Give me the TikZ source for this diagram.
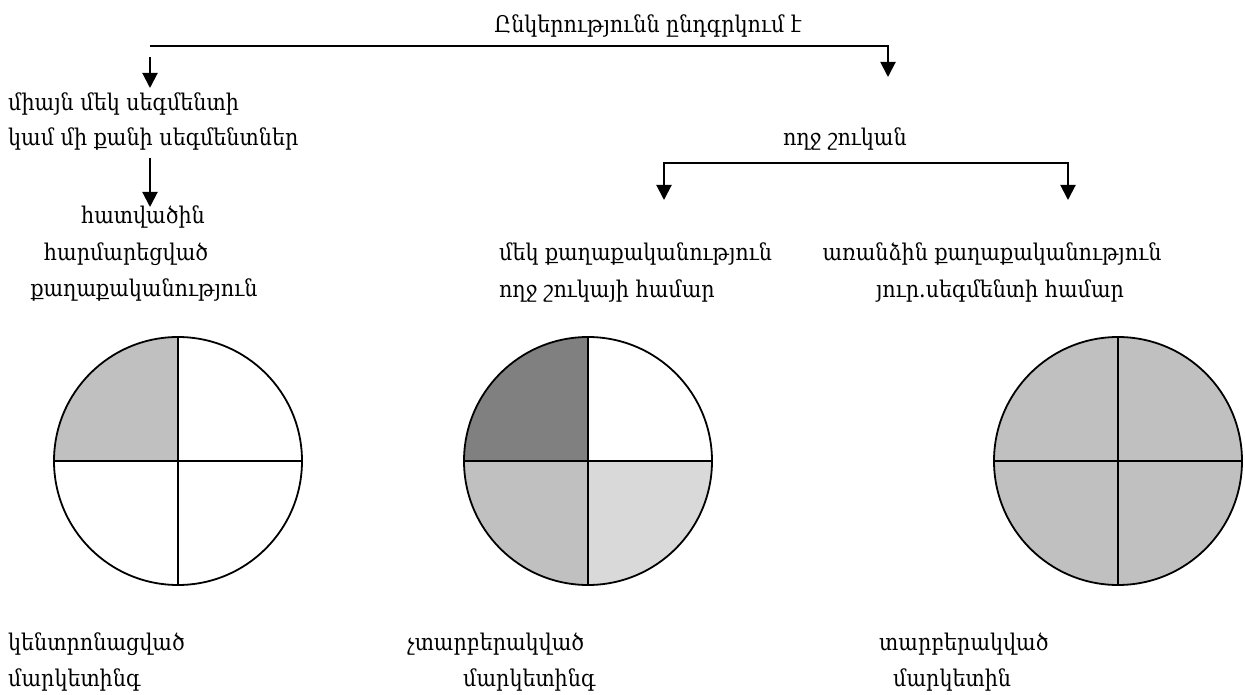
\documentclass[tikz,border=0pt]{standalone}
\usepackage{fontspec}
\setmainfont{DejaVu Serif Condensed}
\usetikzlibrary{arrows.meta}
\definecolor{qgray}{HTML}{C0C0C0}
\definecolor{qdark}{HTML}{808080}
\definecolor{qlight}{HTML}{D9D9D9}
\begin{document}
\begin{tikzpicture}[x=1pt,y=-1pt,
  lbl/.style={inner sep=0pt, font=\fontsize{23}{27}\selectfont},
  conn/.style={line width=2pt},
  tip/.tip={Triangle[width=15pt,length=15pt]},
  arr/.style={conn,-tip},
  pie/.style={circle, draw, line width=1.8pt, minimum size=248pt, inner sep=0pt},
  cross/.style={line width=1.8pt}]
\useasboundingbox (0,0) rectangle (1245,695);

% texts
\node[lbl, anchor=base] (top) at (648,33) {Ընկերությունն ընդգրկում է};
\node[lbl, anchor=base west] (l1) at (8,111) {միայն մեկ սեգմենտի};
\node[lbl, anchor=base west] (l2) at (8,146) {կամ մի քանի սեգմենտներ};
\node[lbl, anchor=base] (m1) at (143,224) {հատվածին};
\node[lbl, anchor=base] (m2) at (126,261) {հարմարեցված};
\node[lbl, anchor=base] (m3) at (144,296) {քաղաքականություն};
\node[lbl, anchor=base] (whole) at (845,146) {ողջ շուկան};
\node[lbl, anchor=base west] (c1) at (499,261) {մեկ քաղաքականություն};
\node[lbl, anchor=base west] (c2) at (499,297) {ողջ շուկայի համար};
\node[lbl, anchor=base] (r1) at (992,261) {առանձին քաղաքականություն};
\node[lbl, anchor=base] (r2) at (1000,297) {յուր.սեգմենտի համար};
\node[lbl, anchor=base west] (b1) at (8,650) {կենտրոնացված};
\node[lbl, anchor=base west] (b2) at (8,686) {մարկետինգ};
\node[lbl, anchor=base west] (b3) at (407,650) {չտարբերակված};
\node[lbl, anchor=base west] (b4) at (463,686) {մարկետինգ};
\node[lbl, anchor=base west] (b5) at (879,650) {տարբերակված};
\node[lbl, anchor=base west] (b6) at (893,686) {մարկետին};

% connectors
\coordinate (t0) at (150,46);
\coordinate (t1) at (888,46);
\coordinate (t2) at (888,77);
\draw[arr] (t0) -- (t1) -- (t2);
\coordinate (a1s) at (150,57);
\coordinate (a1e) at (150,88);
\draw[arr] (a1s) -- (a1e);
\coordinate (a2s) at (150,158);
\coordinate (a2e) at (150,207);
\draw[arr] (a2s) -- (a2e);
\coordinate (k0) at (664,200);
\coordinate (k1) at (664,163);
\coordinate (k2) at (1068,163);
\coordinate (k3) at (1068,200);
\draw[conn, tip-tip] (k0) -- (k1) -- (k2) -- (k3);

% pies
\begin{scope}
  \clip (178,461) circle[radius=124];
  \fill[qgray] (54,337) rectangle (178,461);
\end{scope}
\begin{scope}
  \clip (588,461) circle[radius=124];
  \fill[qdark] (464,337) rectangle (588,461);
  \fill[qgray] (464,461) rectangle (588,585);
  \fill[qlight] (588,461) rectangle (712,585);
\end{scope}
\fill[qgray] (1118,461) circle[radius=124];
\node[pie] (p1) at (178,461) {};
\node[pie] (p2) at (588,461) {};
\node[pie] (p3) at (1118,461) {};
\foreach \p in {p1,p2,p3}{
  \draw[cross] (\p.west) -- (\p.east);
  \draw[cross] (\p.north) -- (\p.south);
}
\end{tikzpicture}
\end{document}
